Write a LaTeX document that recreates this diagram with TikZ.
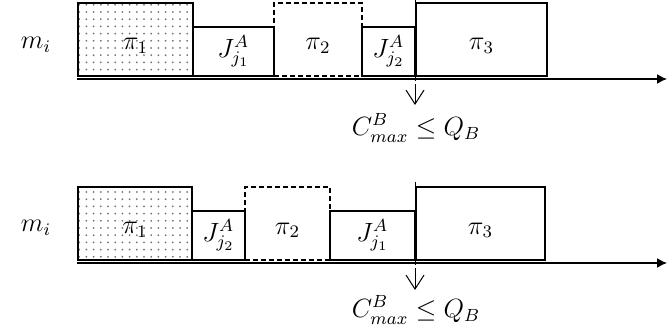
\documentclass[tikz,border=0pt]{standalone}
\usepackage{amsmath,amssymb}
\usetikzlibrary{
positioning,
arrows.meta,
patterns
}
\pgfdeclarepatternformonly{sparse dots}{\pgfqpoint{-1pt}{-1pt}}{\pgfqpoint{1pt}{1pt}}{\pgfqpoint{3.6pt}{3.6pt}}{
\pgfpathcircle{\pgfqpoint{0pt}{0pt}}{.5pt}
\pgfusepath{fill}
}
\newcommand{\mth}[1]{\scalebox{1.1}{$#1$}}
\newcommand{\jobA}[1]{J^{A}_{\vphantom{A}#1}}
\tikzset{
job/.style={
draw,
line width=.8pt,
inner sep=0pt,
outer sep=0pt,
anchor=south west,
font=\large
},
tall/.style={
job,
minimum height=36.5pt,
text height=12.5pt,
text depth=2pt
},
short/.style={
job,
minimum height=24.5pt
},
idle/.style={
tall,
dash pattern=on 2.5pt off 1.5pt
},
dotted box/.style={
tall,
pattern=sparse dots,
pattern color=black!55
},
axis/.style={
-{Latex[length=5pt,width=5pt]},
line width=.7pt
},
mark down/.style={
-{Straight Barb[length=7pt,width=9pt]},
line width=.5pt
}
}

\begin{document}
\begin{tikzpicture}[x=0.5pt,y=-0.5pt]
\useasboundingbox (0,0) rectangle (667,336);

% first sequence
\node[font=\large] (m1) at (36,45) {\mth{m_i}};
\coordinate (o1) at (78,76);
\node[dotted box, minimum width=57.5pt] (p11) at (o1) {};
\node[font=\large] at ([yshift=-3pt]p11) {\mth{\pi_1}};
\node[short, minimum width=40.5pt] (ja1) at (p11.south east) {\mth{\jobA{j_1}}};
\node[idle, minimum width=44pt] (p21) at (ja1.south east) {\mth{\pi_2}};
\node[short, minimum width=26.5pt] (jb1) at (p21.south east) {\mth{\jobA{j_2}}};
\node[tall, minimum width=65.5pt] (p31) at ([xshift=.5pt]jb1.south east) {\mth{\pi_3}};
\coordinate (a1) at (77,79);
\coordinate (e1) at (667,79);
\draw[axis] (a1) -- (e1);
\coordinate (t1) at (415,0);
\coordinate (b1) at (415,81);
\draw[line width=.5pt] (t1) -- (b1);
\coordinate (d1) at (415,84);
\coordinate (f1) at (415,105);
\draw[mark down] (d1) -- (f1);
\node[font=\large] (c1) at (416,128) {\mth{C^B_{max}\leq Q_B}};

% second sequence
\node[font=\large] (m2) at (36,228) {\mth{m_i}};
\coordinate (o2) at (78,260);
\node[dotted box, minimum width=57pt] (p12) at (o2) {};
\node[font=\large] at ([yshift=-3pt]p12) {\mth{\pi_1}};
\node[short, minimum width=26.5pt] (jb2) at (p12.south east) {\mth{\jobA{j_2}}};
\node[idle, minimum width=42.5pt] (p22) at (jb2.south east) {\mth{\pi_2}};
\node[short, minimum width=42.5pt] (ja2) at (p22.south east) {\mth{\jobA{j_1}}};
\node[tall, minimum width=64.5pt] (p32) at ([xshift=.5pt]ja2.south east) {\mth{\pi_3}};
\coordinate (a2) at (77,263);
\coordinate (e2) at (667,263);
\draw[axis] (a2) -- (e2);
\coordinate (t2) at (415,182);
\coordinate (b2) at (415,265);
\draw[line width=.5pt] (t2) -- (b2);
\coordinate (d2) at (415,268);
\coordinate (f2) at (415,290);
\draw[mark down] (d2) -- (f2);
\node[font=\large] (c2) at (416,310) {\mth{C^B_{max}\leq Q_B}};
\end{tikzpicture}
\end{document}
